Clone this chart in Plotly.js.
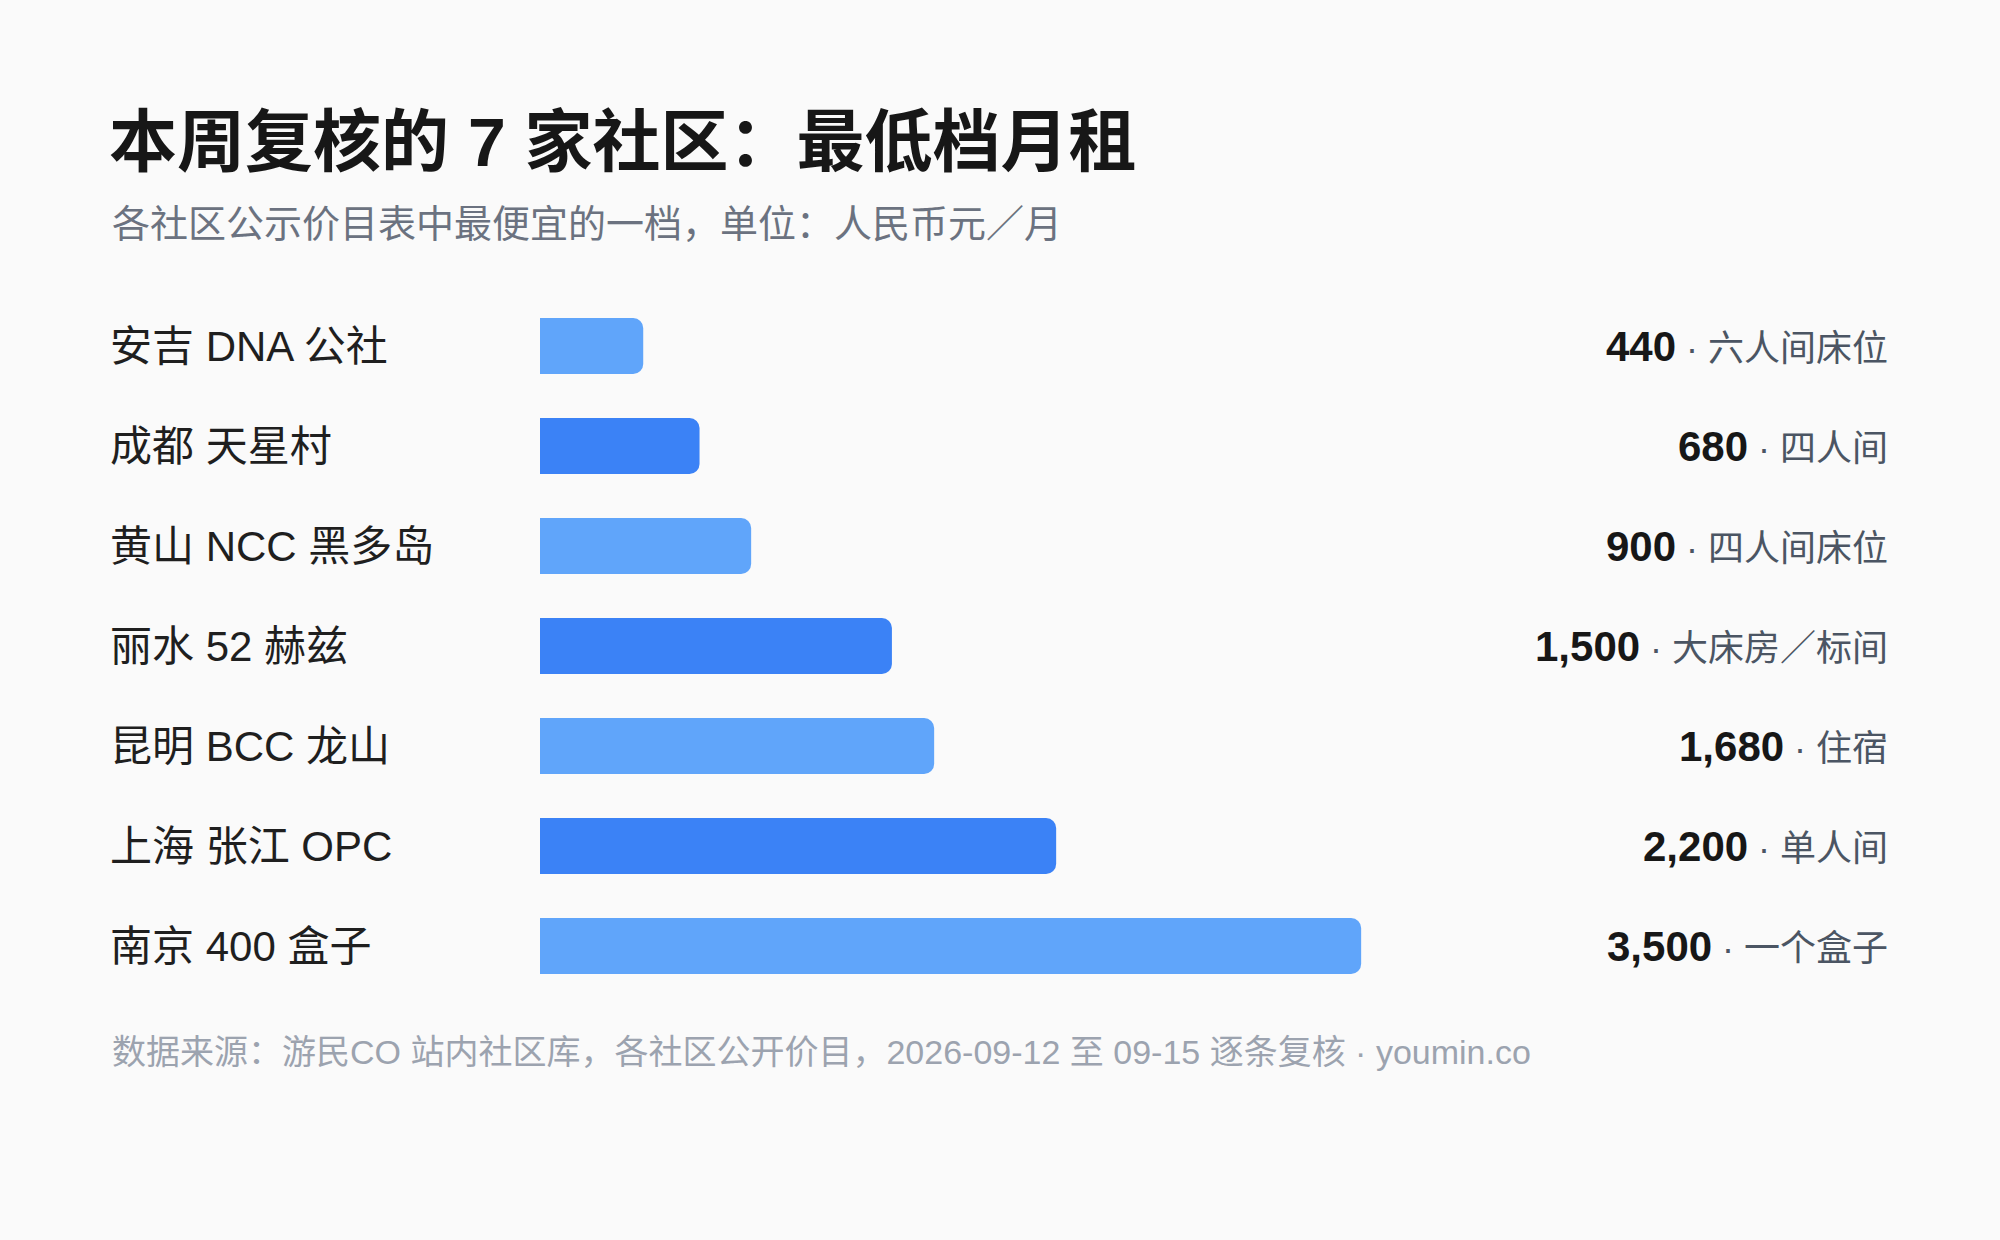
<!DOCTYPE html>
<html>
<head>
<meta charset="utf-8">
<script src="https://cdn.plot.ly/plotly-3.0.1.min.js"></script>
<style>
  html, body { margin: 0; padding: 0; background: #fafafa; }
  #graph { width: 2000px; height: 1240px; }
</style>
</head>
<body>
<div id="graph"></div>
<script>
// 社区名称、最低档月租（元/月）、对应房型
var communities = ["安吉 DNA 公社", "成都 天星村", "黄山 NCC 黑多岛", "丽水 52 赫兹", "昆明 BCC 龙山", "上海 张江 OPC", "南京 400 盒子"];
var rents = [440, 680, 900, 1500, 1680, 2200, 3500];
var roomTypes = ["六人间床位", "四人间", "四人间床位", "大床房／标间", "住宿", "单人间", "一个盒子"];

var titleText = "本周复核的 7 家社区：最低档月租";
var subtitleText = "各社区公示价目表中最便宜的一档，单位：人民币元／月";
var footerText = "数据来源：游民CO 站内社区库，各社区公开价目，2026-09-12 至 09-15 逐条复核 · youmin.co";

var FONT = "Liberation Sans, Arial, Noto Sans CJK SC, sans-serif";
var W = 2000, H = 1240;
var plotL = 540, plotT = 296, plotB = 996;

// pixel -> paper helpers for the free text
function px(x) { return (x - plotL) / (W - plotL); }
function py(y) { return (plotB - y) / (plotB - plotT); }

function plotRents() {
  var colors = rents.map(function (v, i) { return i % 2 === 0 ? "#60a5fa" : "#3b82f6"; });

  var bars = {
    type: "bar",
    orientation: "h",
    x: rents,
    y: communities,
    marker: { color: colors, cornerradius: 10, line: { width: 0 } },
    hoverinfo: "skip"
  };

  var annotations = [];
  communities.forEach(function (name, i) {
    annotations.push({
      xref: "paper", yref: "y", x: px(108), y: name,
      xanchor: "left", yanchor: "middle", showarrow: false,
      text: name,
      font: { family: FONT, size: 42, color: "#1f1f1f" }
    });
    annotations.push({
      xref: "paper", yref: "y", x: px(1890), y: name,
      xanchor: "right", yanchor: "middle", showarrow: false,
      text: "<b><span style=\"font-size:42px;color:#171717\">" + rents[i].toLocaleString("en-US") +
            "</span></b> · " + roomTypes[i],
      font: { family: FONT, size: 36, color: "#4b5563" }
    });
  });

  annotations.push({
    xref: "paper", yref: "paper", x: px(107), y: py(142),
    xanchor: "left", yanchor: "middle", showarrow: false,
    text: "<b>" + titleText + "</b>",
    font: { family: FONT, size: 68, color: "#171717" }
  });
  annotations.push({
    xref: "paper", yref: "paper", x: px(110), y: py(224),
    xanchor: "left", yanchor: "middle", showarrow: false,
    text: subtitleText,
    font: { family: FONT, size: 38, color: "#6b7280" }
  });
  annotations.push({
    xref: "paper", yref: "paper", x: px(110), y: py(1052),
    xanchor: "left", yanchor: "middle", showarrow: false,
    text: footerText,
    font: { family: FONT, size: 34, color: "#9ca3af" }
  });

  var layout = {
    width: W,
    height: H,
    paper_bgcolor: "#fafafa",
    plot_bgcolor: "#fafafa",
    margin: { l: plotL, r: 0, t: plotT, b: H - plotB, pad: 0 },
    showlegend: false,
    bargap: 0.44,
    font: { family: FONT },
    xaxis: {
      range: [0, 6223],
      showgrid: false, zeroline: false, showticklabels: false, showline: false, fixedrange: true
    },
    yaxis: {
      type: "category",
      categoryorder: "array",
      categoryarray: communities,
      range: [6.5, -0.5],
      showgrid: false, zeroline: false, showticklabels: false, showline: false, fixedrange: true
    },
    annotations: annotations
  };

  Plotly.newPlot("graph", [bars], layout, { displayModeBar: false, staticPlot: true });
}
plotRents();
</script>
</body>
</html>
